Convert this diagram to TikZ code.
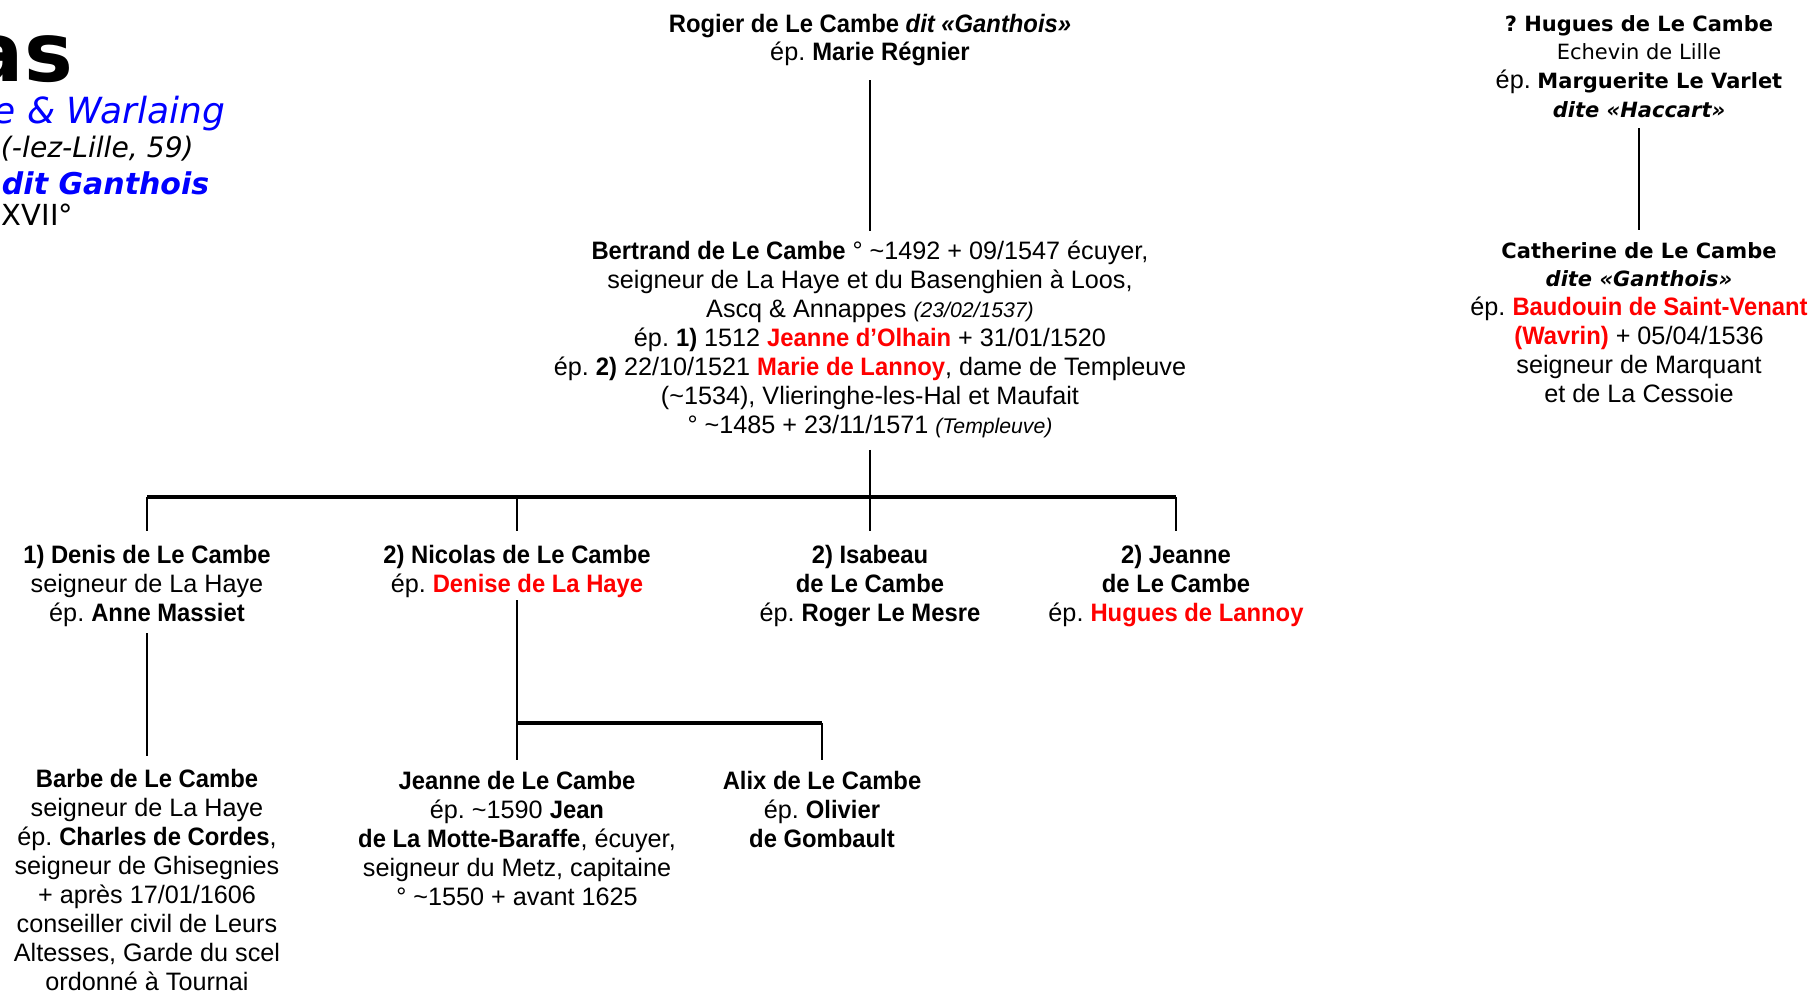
\documentclass[tikz,border=0pt]{standalone}
\usepackage{fontspec}
\setmainfont{Liberation Sans}[BoldFeatures={FakeStretch=0.945}, BoldItalicFeatures={FakeStretch=0.945}]
\newfontfamily\verdana{DejaVu Sans}
\frenchspacing

\newcommand{\corps}{\normalfont\fontsize{12.6}{14.45}\selectfont}
\newcommand{\corpsv}{\verdana\fontsize{10.5}{14.45}\selectfont}
\newcommand{\petit}{\fontsize{10.6}{14.45}\selectfont\itshape}
\newcommand{\vers}{\textasciitilde}
\newcommand{\rouge}[1]{\textcolor{red}{\textbf{#1}}}

\tikzset{
  fiche/.style={align=center, inner sep=0pt, outer sep=0pt, anchor=base, font=\corps},
  fichev/.style={fiche, font=\corpsv},
  titre/.style={inner sep=0pt, outer sep=0pt},
  lien/.style={line width=1.3pt},
  barre/.style={line width=1.9pt}
}

\begin{document}
\begin{tikzpicture}[x=0.5pt, y=-0.5pt]
  \useasboundingbox (0,0) rectangle (1811,992);

  % Titre
  \node[titre, anchor=base east, font=\verdana\bfseries\fontsize{41}{41}\selectfont] (nom) at (73,81) {as};
  \node[titre, anchor=base east, text=blue, font=\verdana\itshape\fontsize{18}{18}\selectfont] (fief) at (225,123) {e \& Warlaing};
  \node[titre, anchor=base west, font=\verdana\itshape\fontsize{14.1}{14.1}\selectfont] (lieu) at (1,157) {(-lez-Lille, 59)};
  \node[titre, anchor=base west, text=blue, font=\verdana\bfseries\itshape\fontsize{15}{15}\selectfont] (surnom) at (2,194) {dit Ganthois};
  \node[titre, anchor=base west, font=\verdana\fontsize{14.5}{14.5}\selectfont] (siecle) at (2,225) {XVII°};

  % Parents (base = derniere ligne)
  \node[fiche] (rogier) at (870,60.9) {\textbf{Rogier de Le Cambe \textit{dit «Ganthois»}}\\
    ép. \textbf{Marie Régnier}};
  \node[fiche] (bertrand) at (870,433) {\textbf{Bertrand de Le Cambe} ° \vers1492 + 09/1547 écuyer,\\
    seigneur de La Haye et du Basenghien à Loos,\\
    Ascq \& Annappes {\petit (23/02/1537)}\\
    ép. \textbf{1)} 1512 \rouge{Jeanne d’Olhain} + 31/01/1520\\
    ép. \textbf{2)} 22/10/1521 \rouge{Marie de Lannoy}, dame de Templeuve\\
    (\vers1534), Vlieringhe-les-Hal et Maufait\\
    ° \vers1485 + 23/11/1571 {\petit (Templeuve)}};

  \node[fichev] (hugues) at (1639,117.7) {\textbf{? Hugues de Le Cambe}\\
    Echevin de Lille\\
    {\corps ép.} \textbf{Marguerite Le Varlet}\\
    \textbf{\textit{dite «Haccart»}}};
  \node[fichev] (catherine) at (1639,402.5) {\textbf{Catherine de Le Cambe}\\
    \textbf{\textit{dite «Ganthois»}}\\
    {\corps ép. \rouge{Baudouin de Saint-Venant}}\\
    {\corps \rouge{(Wavrin)} + 05/04/1536}\\
    {\corps seigneur de Marquant}\\
    {\corps et de La Cessoie}};

  % Enfants
  \node[fiche] (denis) at (147,621.2) {\textbf{1) Denis de Le Cambe}\\
    seigneur de La Haye\\
    ép. \textbf{Anne Massiet}};
  \node[fiche] (nicolas) at (517,592.3) {\textbf{2) Nicolas de Le Cambe}\\
    ép. \rouge{Denise de La Haye}};
  \node[fiche] (isabeau) at (870,621.2) {\textbf{2) Isabeau}\\
    \textbf{de Le Cambe}\\
    ép. \textbf{Roger Le Mesre}};
  \node[fiche] (jeanne) at (1176,621.2) {\textbf{2) Jeanne}\\
    \textbf{de Le Cambe}\\
    ép. \rouge{Hugues de Lannoy}};

  % Petits-enfants
  \node[fiche] (barbe) at (147,990) {\textbf{Barbe de Le Cambe}\\
    seigneur de La Haye\\
    ép. \textbf{Charles de Cordes},\\
    seigneur de Ghisegnies\\
    + après 17/01/1606\\
    conseiller civil de Leurs\\
    Altesses, Garde du scel\\
    ordonné à Tournai};
  \node[fiche] (jeannette) at (517,905.4) {\textbf{Jeanne de Le Cambe}\\
    ép. \vers1590 \textbf{Jean}\\
    \textbf{de La Motte-Baraffe}, écuyer,\\
    seigneur du Metz, capitaine\\
    ° \vers1550 + avant 1625};
  \node[fiche] (alix) at (822,847.6) {\textbf{Alix de Le Cambe}\\
    ép. \textbf{Olivier}\\
    \textbf{de Gombault}};

  % Liens
  \coordinate (noeud) at (870,497);
  \coordinate (noeudn) at (517,723);

  \draw[lien, shorten <=7pt, shorten >=5pt] (rogier) -- (bertrand);
  \draw[lien, shorten <=5pt, shorten >=6pt] (hugues) -- (catherine);

  \draw[lien, shorten <=6.25pt] (bertrand) -- (noeud);
  \draw[barre] (denis |- noeud) -- (jeanne |- noeud);
  \foreach \enfant in {denis,nicolas,isabeau,jeanne}
    \draw[lien, shorten >=7.3pt] (\enfant |- noeud) -- (\enfant.north);

  \draw[lien, shorten <=3.3pt, shorten >=6.5pt] (denis) -- (barbe);
  \draw[lien, shorten <=1.3pt] (nicolas) -- (noeudn);
  \draw[barre] (jeannette |- noeudn) -- (alix |- noeudn);
  \foreach \enfant in {jeannette,alix}
    \draw[lien, shorten >=6pt] (\enfant |- noeudn) -- (\enfant.north);

\end{tikzpicture}
\end{document}
